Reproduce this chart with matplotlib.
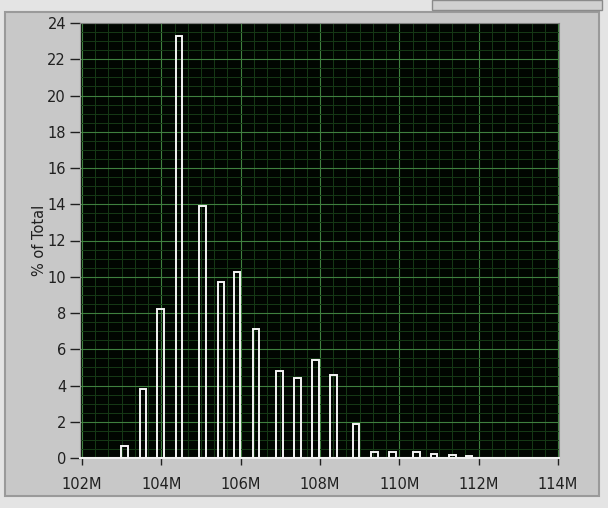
import matplotlib.pyplot as plt
from matplotlib.patches import Rectangle
from matplotlib.ticker import MultipleLocator, FuncFormatter

# bin centres (in M) and percentage of total
bin_centers = [103.07, 103.53, 103.98, 104.44, 105.04, 105.50, 105.91, 106.38,
               106.98, 107.43, 107.89, 108.34, 108.91, 109.37, 109.83, 110.43,
               110.88, 111.34, 111.76]
pct_total = [0.66, 3.82, 8.22, 23.28, 13.9, 9.7, 10.24, 7.13,
             4.82, 4.40, 5.41, 4.58, 1.89, 0.31, 0.31, 0.31,
             0.24, 0.17, 0.09]
x_ticks = [102, 104, 106, 108, 110, 112, 114]
y_ticks = list(range(0, 25, 2))

panel = '#c8c8c8'

fig = plt.figure(figsize=(6.08, 5.08), dpi=100)
fig.patch.set_facecolor('#e4e4e4')

# LabVIEW-like raised panel behind the graph
fig.patches.append(Rectangle((5 / 608, 12 / 508), 594 / 608, 484 / 508,
                             transform=fig.transFigure, facecolor=panel,
                             edgecolor='#9a9a9a', linewidth=1.5, zorder=-2))
fig.patches.append(Rectangle((432 / 608, 498 / 508), 170 / 608, 10 / 508,
                             transform=fig.transFigure, facecolor='#d0d0d0',
                             edgecolor='#8a8a8a', linewidth=1, zorder=-2))

ax = fig.add_axes([80 / 608, 50 / 508, 479 / 608, 435 / 508])
ax.set_zorder(2)
ax.set_facecolor('#010601')

ax.bar(bin_centers, pct_total, width=0.16, facecolor='none',
       edgecolor='#f4f4f4', linewidth=1.4, zorder=3)

ax.set_xlim(101.95, 114.025)
ax.set_ylim(0, 24)
ax.set_xticks(x_ticks)
ax.set_yticks(y_ticks)
ax.xaxis.set_major_formatter(FuncFormatter(lambda v, p: f'{int(round(v))}M'))
ax.xaxis.set_minor_locator(MultipleLocator(2 / 6))
ax.yaxis.set_minor_locator(MultipleLocator(0.5))

ax.grid(which='major', color='#3f803f', linewidth=0.8, zorder=1)
ax.grid(which='minor', color='#163a16', linewidth=0.7, zorder=0.5)
ax.set_axisbelow(True)

ax.tick_params(axis='both', which='minor', length=0)
ax.tick_params(axis='y', which='major', direction='out', length=7, width=1,
               color='#202020', labelsize=10.5, labelcolor='#202020', pad=3)
ax.tick_params(axis='x', which='major', direction='out', length=5, width=1,
               color='#202020', labelsize=10.5, labelcolor='#202020', pad=9)

for side in ['top', 'right']:
    ax.spines[side].set_color('#808080')
ax.spines['left'].set_color('#a0a0a0')
ax.spines['bottom'].set_color('#f0f0f0')
ax.spines['bottom'].set_linewidth(1.5)

ax.set_ylabel('% of Total', fontsize=10.5, color='#202020', labelpad=0)

fig.savefig('out.png', dpi=100, facecolor=fig.get_facecolor())
